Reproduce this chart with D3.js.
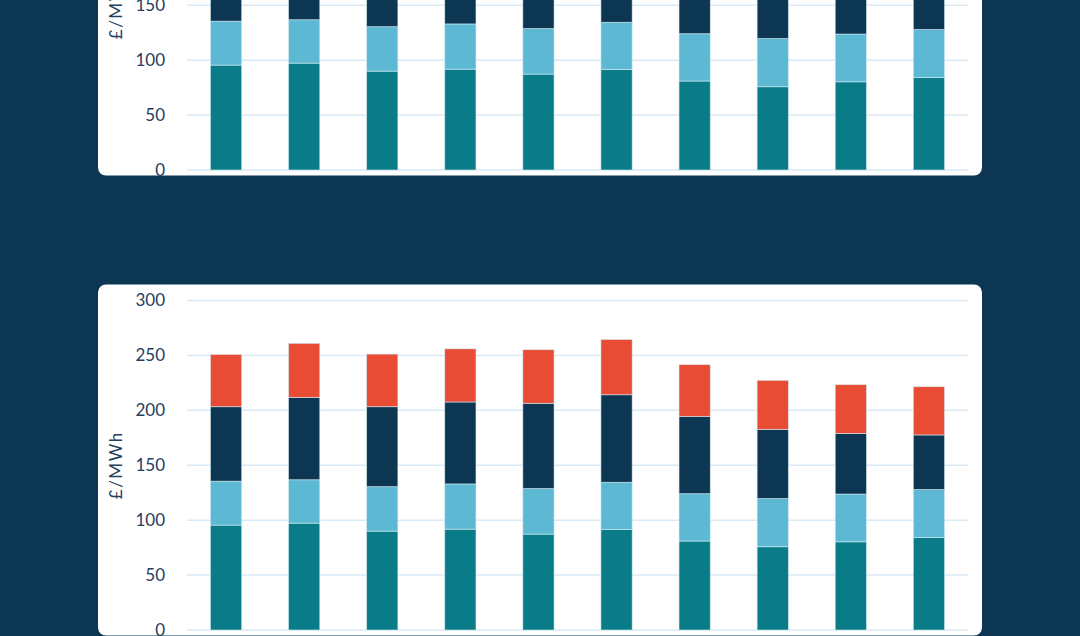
<!DOCTYPE html>
<html>
<head>
<meta charset="utf-8">
<script src="https://cdn.jsdelivr.net/npm/d3@7"></script>
<style>
  html, body { margin: 0; padding: 0; background: #0c3651; overflow: hidden; }
  svg { display: block; }
  .tick text { font-family: Lato, "Noto Sans", sans-serif; }
</style>
</head>
<body>
<svg id="chart"></svg>
<script>
// 1. Data (£/MWh)
const categories = ["1", "2", "3", "4", "5", "6", "7", "8", "9", "10"]
const seriesKeys = ["teal", "light", "navy", "red"]
const tealValues  = [95.5, 97.3, 90.0, 91.8, 87.3, 91.5, 81.0, 75.8, 80.3, 84.2]
const lightValues = [40.0, 39.5, 40.5, 41.2, 41.5, 43.0, 43.1, 43.9, 43.5, 43.7]
const navyValues  = [67.8, 75.0, 72.8, 74.6, 77.6, 79.7, 70.4, 63.0, 55.2, 49.7]
const redValues   = [47.6, 49.2, 47.9, 48.4, 48.8, 50.3, 47.1, 44.6, 44.4, 43.9]
const yTicks = [0, 50, 100, 150, 200, 250, 300]
const yLabel = "£/MWh"

const colors = {
  teal: "#0a7c87",
  light: "#5db8d3",
  navy: "#0c3651",
  red: "#e84c35",
}

const rows = categories.map((c, i) => ({
  category: c,
  teal: tealValues[i],
  light: lightValues[i],
  navy: navyValues[i],
  red: redValues[i],
}))

// 2. Dimensions
const dimensions = {
  width: 1080,
  height: 636,
  panel: { left: 98, width: 884, height: 351, radius: 8 },
  plot: { left: 187, right: 968, top: 16, bottom: 345.5 },
}

const wrapper = d3.select("#chart")
    .attr("width", dimensions.width)
    .attr("height", dimensions.height)

// 3. Scales (shared by both panels)
const xScale = d3.scaleBand()
  .domain(categories)
  .range([dimensions.plot.left, dimensions.plot.right])
  .paddingInner(0.6)
  .paddingOuter(0.3)

const yScale = d3.scaleLinear()
  .domain([0, 300])
  .range([dimensions.plot.bottom, dimensions.plot.top])

// 4. Draw a panel
function drawPanel(top, keys) {
  const panel = wrapper.append("g")
      .attr("transform", `translate(0, ${top})`)

  panel.append("rect")
      .attr("x", dimensions.panel.left)
      .attr("y", 0)
      .attr("width", dimensions.panel.width)
      .attr("height", dimensions.panel.height)
      .attr("rx", dimensions.panel.radius)
      .attr("fill", "#ffffff")

  // gridlines
  panel.append("g")
    .selectAll("line")
    .data(yTicks)
    .join("line")
      .attr("x1", dimensions.plot.left)
      .attr("x2", dimensions.plot.right)
      .attr("y1", d => yScale(d))
      .attr("y2", d => yScale(d))
      .attr("stroke", "#d9eaf7")
      .attr("stroke-width", 1.5)

  // y axis
  const yAxis = d3.axisLeft(yScale)
    .tickValues(yTicks)
    .tickSize(0)
    .tickPadding(22)

  const yAxisGroup = panel.append("g")
      .attr("transform", `translate(${dimensions.plot.left}, 0)`)
      .call(yAxis)
  yAxisGroup.select(".domain").remove()
  yAxisGroup.selectAll("text")
      .attr("fill", "#23405e")
      .style("font-size", "17px")

  panel.append("text")
      .attr("transform", `translate(115, ${(dimensions.plot.top + dimensions.plot.bottom) / 2}) rotate(-90)`)
      .attr("text-anchor", "middle")
      .attr("dominant-baseline", "central")
      .attr("fill", "#23405e")
      .style("font-family", "Lato, 'Noto Sans', sans-serif")
      .style("font-size", "17px")
      .style("letter-spacing", "1.5px")
      .text(yLabel)

  // stacked bars
  const stacked = d3.stack().keys(keys)(rows)

  panel.append("g")
    .selectAll("g")
    .data(stacked)
    .join("g")
      .attr("fill", d => colors[d.key])
    .selectAll("rect")
    .data(d => d)
    .join("rect")
      .attr("x", d => xScale(d.data.category))
      .attr("width", xScale.bandwidth())
      .attr("y", d => yScale(d[1]))
      .attr("height", d => yScale(d[0]) - yScale(d[1]))
      .attr("stroke", "#d7eef5")
      .attr("stroke-opacity", 0.7)
      .attr("stroke-width", 0.8)
}

drawPanel(-175.5, seriesKeys.slice(0, 3))
drawPanel(284.5, seriesKeys)
</script>
</body>
</html>
